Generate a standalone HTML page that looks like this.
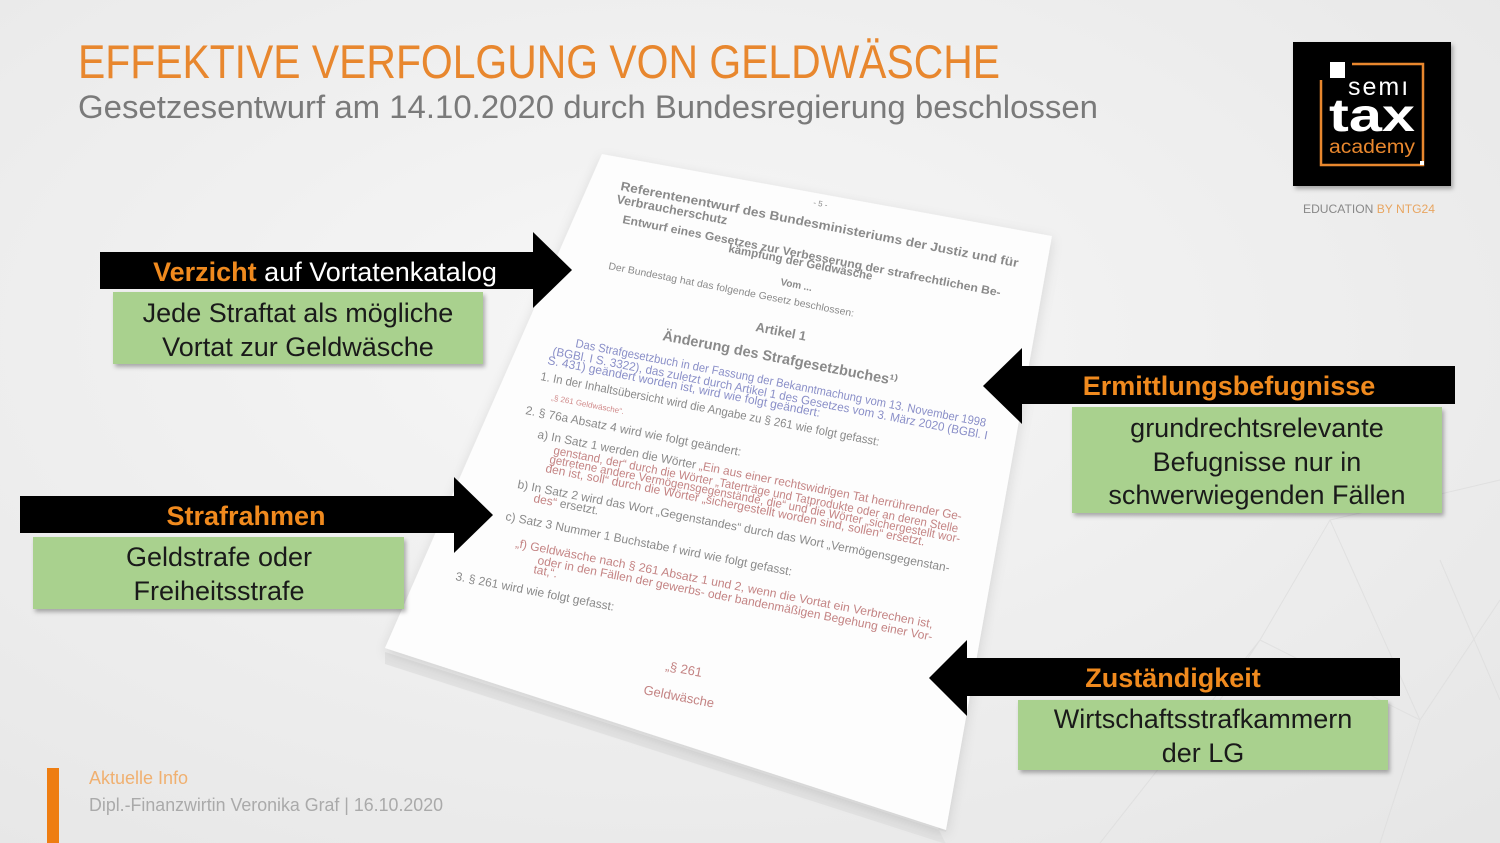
<!DOCTYPE html>
<html><head><meta charset="utf-8"><style>
html,body{margin:0;padding:0;background:#f0f0f0}
svg{display:block}
</style></head><body>
<svg width="1500" height="843" viewBox="0 0 1500 843" xmlns="http://www.w3.org/2000/svg" font-family="'Liberation Sans', sans-serif">
<defs>
<radialGradient id="bg" cx="0.45" cy="0.4" r="0.8">
<stop offset="0" stop-color="#f7f7f7"/><stop offset="1" stop-color="#e6e6e6"/>
</radialGradient>
<filter id="sh" x="-10%" y="-10%" width="130%" height="140%"><feDropShadow dx="2" dy="3" stdDeviation="2" flood-color="#000" flood-opacity="0.3"/></filter>
<filter id="ps" x="-10%" y="-10%" width="130%" height="130%"><feDropShadow dx="0" dy="4" stdDeviation="6" flood-color="#000" flood-opacity="0.12"/></filter>
</defs>
<rect width="1500" height="843" fill="url(#bg)"/>
<g stroke="#dcdcdc" stroke-width="1" fill="none" opacity="0.7">
<path d="M1100 843 L1260 640 L1420 720 L1500 600 M1260 640 L1330 520 L1500 480 M1330 520 L1420 720 L1380 843 M1180 760 L1260 640 M1440 560 L1500 700"/>
</g>
<!-- page -->
<polygon points="602,154 1052,236 946,832 385,652 385,664 946,844" fill="#e2e2e2"/>
<polygon points="602,154 1052,236 946,830 385,648" fill="#fdfdfd" filter="url(#ps)"/>
<g font-size="12" fill="#8a8a8a">
<text x="813" y="205" transform="rotate(11 813 205)" font-size="8">- 5 -</text>
<text x="620" y="190" transform="rotate(11 620 190)" font-weight="bold" font-size="12.5" textLength="405" lengthAdjust="spacingAndGlyphs">Referentenentwurf des Bundesministeriums der Justiz und für</text>
<text x="616" y="203" transform="rotate(11 616 203)" font-weight="bold" font-size="12.5">Verbraucherschutz</text>
<text x="622" y="223" transform="rotate(11 622 223)" font-weight="bold" font-size="11.5" textLength="385" lengthAdjust="spacingAndGlyphs">Entwurf eines Gesetzes zur Verbesserung der strafrechtlichen Be-</text>
<text x="728" y="252" transform="rotate(11 728 252)" font-weight="bold" font-size="11.5">kämpfung der Geldwäsche</text>
<text x="780" y="285" transform="rotate(11 780 285)" font-weight="bold" font-size="10">Vom ...</text>
<text x="608" y="269" transform="rotate(11 608 269)" font-size="10" textLength="250" lengthAdjust="spacingAndGlyphs">Der Bundestag hat das folgende Gesetz beschlossen:</text>
<text x="755" y="331" transform="rotate(11 755 331)" font-weight="bold" font-size="13">Artikel 1</text>
<text x="662" y="340" transform="rotate(11 662 340)" font-weight="bold" font-size="14.5">Änderung des Strafgesetzbuches¹⁾</text>
<text x="575" y="347" transform="rotate(11 575 347)" fill="#8a8fc8" textLength="418" lengthAdjust="spacingAndGlyphs">Das Strafgesetzbuch in der Fassung der Bekanntmachung vom 13. November 1998</text>
<text x="552" y="355" transform="rotate(11 552 355)" fill="#8a8fc8" textLength="443" lengthAdjust="spacingAndGlyphs">(BGBl. I S. 3322), das zuletzt durch Artikel 1 des Gesetzes vom 3. März 2020 (BGBl. I</text>
<text x="547" y="364" transform="rotate(11 547 364)" fill="#8a8fc8">S. 431) geändert worden ist, wird wie folgt geändert:</text>
<text x="540" y="380" transform="rotate(11 540 380)" textLength="345" lengthAdjust="spacingAndGlyphs">1.    In der Inhaltsübersicht wird die Angabe zu § 261 wie folgt gefasst:</text>
<text x="551" y="400" transform="rotate(11 551 400)" font-size="8" fill="#d08a8a">„§ 261 Geldwäsche“.</text>
<text x="525" y="414" transform="rotate(11 525 414)">2.    § 76a Absatz 4 wird wie folgt geändert:</text>
<text x="537" y="438" transform="rotate(11 537 438)" textLength="432" lengthAdjust="spacingAndGlyphs">a)    In Satz 1 werden die Wörter <tspan fill="#c48484">„Ein aus einer rechtswidrigen Tat herrührender Ge-</tspan></text>
<text x="553" y="454" transform="rotate(11 553 454)" fill="#c48484" textLength="412" lengthAdjust="spacingAndGlyphs">genstand, der“ durch die Wörter „Taterträge und Tatprodukte oder an deren Stelle</text>
<text x="549" y="463" transform="rotate(11 549 463)" fill="#c48484" textLength="418" lengthAdjust="spacingAndGlyphs">getretene andere Vermögensgegenstände, die“ und die Wörter „sichergestellt wor-</text>
<text x="545" y="472" transform="rotate(11 545 472)" fill="#c48484">den ist, soll“ durch die Wörter „sichergestellt worden sind, sollen“ ersetzt.</text>
<text x="517" y="488" transform="rotate(11 517 488)" textLength="440" lengthAdjust="spacingAndGlyphs">b)    In Satz 2 wird das Wort „Gegenstandes“ durch das Wort „Vermögensgegenstan-</text>
<text x="533" y="502" transform="rotate(11 533 502)" fill="#c48484">des“ <tspan fill="#8a8a8a">ersetzt.</tspan></text>
<text x="505" y="520" transform="rotate(11 505 520)">c)    Satz 3 Nummer 1 Buchstabe f wird wie folgt gefasst:</text>
<text x="515" y="547" transform="rotate(11 515 547)" fill="#c48484" textLength="425" lengthAdjust="spacingAndGlyphs">„f)    Geldwäsche nach § 261 Absatz 1 und 2, wenn die Vortat ein Verbrechen ist,</text>
<text x="537" y="564" transform="rotate(11 537 564)" fill="#c48484" textLength="402" lengthAdjust="spacingAndGlyphs">oder in den Fällen der gewerbs- oder bandenmäßigen Begehung einer Vor-</text>
<text x="533" y="573" transform="rotate(11 533 573)" fill="#c48484">tat,“.</text>
<text x="455" y="580" transform="rotate(11 455 580)">3.    § 261 wird wie folgt gefasst:</text>
<text x="665" y="670" transform="rotate(11 665 670)" fill="#c48484" font-size="13">„§ 261</text>
<text x="643" y="694" transform="rotate(11 643 694)" fill="#c48484" font-size="13">Geldwäsche</text>
</g>
<!-- title -->
<text x="78" y="78" font-size="47" fill="#e8872e" textLength="922" lengthAdjust="spacingAndGlyphs">EFFEKTIVE VERFOLGUNG VON GELDWÄSCHE</text>
<text x="78" y="118" font-size="32" fill="#7a7a7a" textLength="1020" lengthAdjust="spacingAndGlyphs">Gesetzesentwurf am 14.10.2020 durch Bundesregierung beschlossen</text>
<!-- logo -->
<rect x="1293" y="42" width="158" height="144" fill="#000" filter="url(#sh)"/>
<rect x="1330" y="62" width="15" height="16" fill="#fff"/>
<path d="M1352 64 H1423 V165 H1321 V80" stroke="#e8872e" stroke-width="2.5" fill="none"/>
<rect x="1420" y="161" width="4" height="4" fill="#fff"/>
<text x="1348" y="95" font-size="25" fill="#fff" letter-spacing="2">semı</text>
<text x="1329" y="131" font-size="46" font-weight="bold" fill="#fff" textLength="86" lengthAdjust="spacingAndGlyphs">tax</text>
<text x="1329" y="153" font-size="19" fill="#e8872e" textLength="86" lengthAdjust="spacingAndGlyphs">academy</text>
<text x="1303" y="213" font-size="12" fill="#888" textLength="132" lengthAdjust="spacingAndGlyphs">EDUCATION <tspan fill="#e8a560">BY NTG24</tspan></text>
<!-- box 1 -->
<rect x="113" y="292" width="370" height="72" fill="#a9d18e" filter="url(#sh)"/>
<rect x="100" y="252" width="436" height="37" fill="#000"/>
<polygon points="533,232 572,270 533,308" fill="#000"/>
<text x="325" y="281" font-size="27" text-anchor="middle" fill="#fff"><tspan fill="#f08a1e" font-weight="bold">Verzicht</tspan> auf Vortatenkatalog</text>
<text x="298" y="322" font-size="27" text-anchor="middle" fill="#1a1a1a">Jede Straftat als mögliche</text>
<text x="298" y="356" font-size="27" text-anchor="middle" fill="#1a1a1a">Vortat zur Geldwäsche</text>
<!-- box 2 -->
<rect x="33" y="537" width="371" height="72" fill="#a9d18e" filter="url(#sh)"/>
<rect x="20" y="496" width="437" height="37" fill="#000"/>
<polygon points="454,477 493,515 454,553" fill="#000"/>
<text x="246" y="525" font-size="27" font-weight="bold" text-anchor="middle" fill="#f08a1e">Strafrahmen</text>
<text x="219" y="566" font-size="27" text-anchor="middle" fill="#1a1a1a">Geldstrafe oder</text>
<text x="219" y="600" font-size="27" text-anchor="middle" fill="#1a1a1a">Freiheitsstrafe</text>
<!-- box 3 -->
<rect x="1072" y="407" width="370" height="106" fill="#a9d18e" filter="url(#sh)"/>
<rect x="1019" y="366" width="436" height="38" fill="#000"/>
<polygon points="1022,348 983,386 1022,424" fill="#000"/>
<text x="1229" y="395" font-size="27" font-weight="bold" text-anchor="middle" fill="#f08a1e">Ermittlungsbefugnisse</text>
<text x="1257" y="437" font-size="27" text-anchor="middle" fill="#1a1a1a">grundrechtsrelevante</text>
<text x="1257" y="471" font-size="27" text-anchor="middle" fill="#1a1a1a">Befugnisse nur in</text>
<text x="1257" y="504" font-size="27" text-anchor="middle" fill="#1a1a1a">schwerwiegenden Fällen</text>
<!-- box 4 -->
<rect x="1018" y="700" width="370" height="70" fill="#a9d18e" filter="url(#sh)"/>
<rect x="964" y="658" width="436" height="38" fill="#000"/>
<polygon points="967,640 929,678 967,716" fill="#000"/>
<text x="1173" y="687" font-size="27" font-weight="bold" text-anchor="middle" fill="#f08a1e">Zuständigkeit</text>
<text x="1203" y="728" font-size="27" text-anchor="middle" fill="#1a1a1a">Wirtschaftsstrafkammern</text>
<text x="1203" y="762" font-size="27" text-anchor="middle" fill="#1a1a1a">der LG</text>
<!-- footer -->
<rect x="47" y="768" width="12" height="75" fill="#ee7d11"/>
<text x="89" y="784" font-size="18" fill="#f0b070">Aktuelle Info</text>
<text x="89" y="811" font-size="18" fill="#aaaaaa" textLength="354" lengthAdjust="spacingAndGlyphs">Dipl.-Finanzwirtin Veronika Graf | 16.10.2020</text>
</svg>
</body></html>
